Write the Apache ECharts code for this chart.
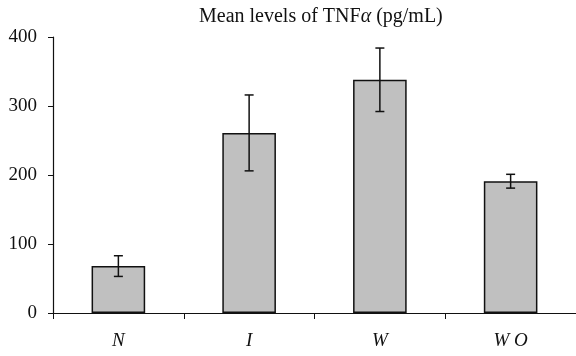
<!DOCTYPE html>
<html>
<head>
<meta charset="utf-8">
<script src="https://cdn.jsdelivr.net/npm/echarts@6/dist/echarts.min.js"></script>
<style>
html, body { margin: 0; padding: 0; background: #fff; }
#chart { width: 576px; height: 356px; }
</style>
</head>
<body>
<div id="chart"></div>
<script>
// data
var categories = ["N", "I", "W", "WO"];
var meanValues = [68, 261, 338, 191];
var errValues = [15, 55, 46, 10];
var yTicks = [0, 100, 200, 300, 400];

var serif = "'Liberation Serif', 'DejaVu Serif', serif";

var errData = categories.map(function (c, i) {
  return [i, meanValues[i] - errValues[i], meanValues[i] + errValues[i]];
});

var option = {
  backgroundColor: "#fff",
  animation: false,
  title: {
    text: "Mean levels of TNF{a|α} (pg/mL)",
    left: 194,
    top: 2,
    textStyle: {
      fontFamily: serif,
      fontSize: 20,
      fontWeight: "normal",
      color: "#111",
      rich: {
        a: { fontFamily: serif, fontSize: 20, fontStyle: "italic", color: "#111" }
      }
    }
  },
  grid: { left: 53, right: -2, top: 37, bottom: 43 },
  xAxis: {
    type: "category",
    data: categories,
    axisLine: { lineStyle: { color: "#111", width: 1.2 } },
    axisTick: { show: true, length: 6, alignWithLabel: false, lineStyle: { color: "#111" } },
    axisLabel: {
      margin: 18,
      fontFamily: serif,
      fontStyle: "italic",
      fontSize: 19,
      color: "#111",
      formatter: function (v) { return v.split("").join(" "); }
    }
  },
  yAxis: {
    type: "value",
    min: 0,
    max: 400,
    interval: 100,
    axisLine: { show: true, lineStyle: { color: "#111", width: 1.2 } },
    axisTick: { show: true, length: 5, lineStyle: { color: "#111" } },
    splitLine: { show: false },
    axisLabel: {
      margin: 16,
      fontFamily: serif,
      fontSize: 19,
      color: "#111",
      formatter: function (v) { return yTicks.indexOf(v) >= 0 ? String(v) : ""; }
    }
  },
  series: [
    {
      type: "bar",
      data: meanValues,
      barWidth: "41%",
      itemStyle: { color: "#c0c0c0", borderColor: "#111", borderWidth: 1.5 }
    },
    {
      type: "custom",
      data: errData,
      z: 10,
      renderItem: function (params, api) {
        var x = api.value(0);
        var lo = api.coord([x, api.value(1)]);
        var hi = api.coord([x, api.value(2)]);
        var half = 4.5;
        var st = { stroke: "#111", lineWidth: 1.5 };
        return {
          type: "group",
          children: [
            { type: "line", shape: { x1: hi[0], y1: hi[1], x2: lo[0], y2: lo[1] }, style: st },
            { type: "line", shape: { x1: hi[0] - half, y1: hi[1], x2: hi[0] + half, y2: hi[1] }, style: st },
            { type: "line", shape: { x1: lo[0] - half, y1: lo[1], x2: lo[0] + half, y2: lo[1] }, style: st }
          ]
        };
      }
    }
  ]
};

var chart = echarts.init(document.getElementById("chart"));
chart.setOption(option);
</script>
</body>
</html>
